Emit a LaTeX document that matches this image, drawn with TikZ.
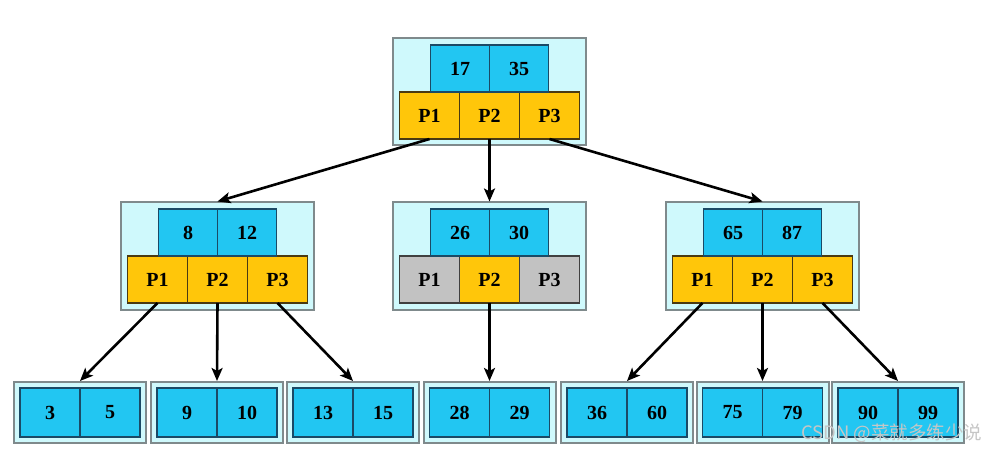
\documentclass[tikz,border=0pt]{standalone}
\usepackage{fontspec}
\setmainfont{Liberation Serif}
\newfontfamily\cjkfont{Noto Sans CJK SC}
\usetikzlibrary{fit,positioning,backgrounds,arrows.meta}
\definecolor{keyblue}{HTML}{22C6F2}
\definecolor{keyline}{HTML}{1B4A66}
\definecolor{ptrgold}{HTML}{FFC60A}
\definecolor{ptrline}{HTML}{4A3A12}
\definecolor{nilgray}{HTML}{C2C2C2}
\definecolor{nilline}{HTML}{404040}
\definecolor{boxfill}{HTML}{CFF9FC}
\definecolor{boxline}{HTML}{7F8A8C}

\begin{document}
\begin{tikzpicture}[x=1pt,y=1pt]
\tikzstyle{cell}=[rectangle, outer sep=0pt, inner sep=0pt, line width=1.8pt, minimum height=47pt, font=\fontsize{20}{22}\selectfont\bfseries]
\tikzstyle{key}=[cell, minimum width=59pt, fill=keyblue, draw=keyline]
\tikzstyle{leaf}=[key, minimum width=60pt, minimum height=49pt]
\tikzstyle{ptr}=[cell, minimum width=60pt, fill=ptrgold, draw=ptrline]
\tikzstyle{nil}=[ptr, fill=nilgray, draw=nilline]
\tikzstyle{box}=[rectangle, draw=boxline, fill=boxfill, line width=2pt, inner sep=6.5pt]
\tikzstyle{connect}=[-{Stealth[length=13pt,width=11pt,inset=3pt]}, line width=2.6pt]
\useasboundingbox (0,0) rectangle (988,453);

% root node
\node[ptr] (rp2) at (489.5,337.5) {P2};
\node[ptr] (rp1) [left=0pt of rp2] {P1};
\node[ptr] (rp3) [right=0pt of rp2] {P3};
\node[key] (rk1) [above left=0pt of rp2.north] {17};
\node[key] (rk2) [above right=0pt of rp2.north] {35};

% second level
\node[ptr] (ap2) at (217.5,173.5) {P2};
\node[ptr] (ap1) [left=0pt of ap2] {P1};
\node[ptr] (ap3) [right=0pt of ap2] {P3};
\node[key] (ak1) [above left=0pt of ap2.north] {8};
\node[key] (ak2) [above right=0pt of ap2.north] {12};

\node[ptr] (bp2) at (489.5,173.5) {P2};
\node[nil] (bp1) [left=0pt of bp2] {P1};
\node[nil] (bp3) [right=0pt of bp2] {P3};
\node[key] (bk1) [above left=0pt of bp2.north] {26};
\node[key] (bk2) [above right=0pt of bp2.north] {30};

\node[ptr] (cp2) at (762.5,173.5) {P2};
\node[ptr] (cp1) [left=0pt of cp2] {P1};
\node[ptr] (cp3) [right=0pt of cp2] {P3};
\node[key] (ck1) [above left=0pt of cp2.north] {65};
\node[key] (ck2) [above right=0pt of cp2.north] {87};

% leaves
\node[leaf,anchor=east] (l1a) at (80,40.5) {3};
\node[leaf] (l1b) [right=0pt of l1a] {5};
\node[leaf,anchor=east] (l2a) at (217,40.5) {9};
\node[leaf] (l2b) [right=0pt of l2a] {10};
\node[leaf,anchor=east] (l3a) at (353,40.5) {13};
\node[leaf] (l3b) [right=0pt of l3a] {15};
\node[leaf,anchor=east] (l4a) at (489.5,40.5) {28};
\node[leaf] (l4b) [right=0pt of l4a] {29};
\node[leaf,anchor=east] (l5a) at (627,40.5) {36};
\node[leaf] (l5b) [right=0pt of l5a] {60};
\node[leaf,anchor=east] (l6a) at (762.5,40.5) {75};
\node[leaf] (l6b) [right=0pt of l6a] {79};
\node[leaf,anchor=east] (l7a) at (898,40.5) {90};
\node[leaf] (l7b) [right=0pt of l7a] {99};

\begin{scope}[on background layer]
\node[box, fit=(rp1)(rp3)(rk1)] (root) {};
\node[box, fit=(ap1)(ap3)(ak1)] (na) {};
\node[box, fit=(bp1)(bp3)(bk1)] (nb) {};
\node[box, fit=(cp1)(cp3)(ck1)] (nc) {};
\node[box, inner sep=6pt, fit=(l1a)(l1b)] (leaf1) {};
\node[box, inner sep=6pt, fit=(l2a)(l2b)] (leaf2) {};
\node[box, inner sep=6pt, fit=(l3a)(l3b)] (leaf3) {};
\node[box, inner sep=6pt, fit=(l4a)(l4b)] (leaf4) {};
\node[box, inner sep=6pt, fit=(l5a)(l5b)] (leaf5) {};
\node[box, inner sep=6pt, fit=(l6a)(l6b)] (leaf6) {};
\node[box, inner sep=6pt, fit=(l7a)(l7b)] (leaf7) {};
\end{scope}

\path (rp1.south) edge [connect] (na.north);
\path (rp2.south) edge [connect] (nb.north);
\path (rp3.south) edge [connect] (nc.north);
\path (ap1.south) edge [connect] (leaf1.north);
\path (ap2.south) edge [connect] (leaf2.north);
\path (ap3.south) edge [connect] (leaf3.north);
\path (bp2.south) edge [connect] (leaf4.north);
\path (cp1.south) edge [connect] (leaf5.north);
\path (cp2.south) edge [connect] (leaf6.north);
\path (cp3.south) edge [connect] (leaf7.north);

\node[text=gray!45, font=\cjkfont\fontsize{18.5}{20}\selectfont, anchor=east] (mark) at (986,20) {CSDN @菜就多练少说};
\end{tikzpicture}
\end{document}
